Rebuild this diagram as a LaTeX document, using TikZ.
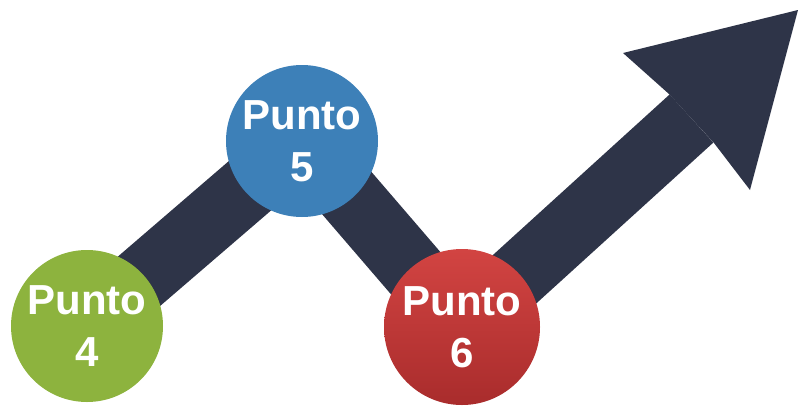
\documentclass[tikz,border=0pt]{standalone}
\usepackage{fontspec}
\setmainfont{Liberation Sans}
\usetikzlibrary{backgrounds}
\definecolor{band}{HTML}{2E3448}
\definecolor{pgreen}{HTML}{8DB33E}
\definecolor{pblue}{HTML}{3D80B8}
\definecolor{predtop}{HTML}{D24442}
\definecolor{predbot}{HTML}{A92C2C}
\tikzset{
  punto/.style={circle, minimum size=152pt, inner sep=0pt, align=center, text=white,
    font=\fontsize{42}{52}\selectfont\bfseries},
  bandline/.style={draw=band, line width=65pt, line join=round},
}
\begin{document}
\begin{tikzpicture}[x=1pt,y=-1pt]
\useasboundingbox (0,0) rectangle (800,407);
\node[punto, fill=pgreen] (g) at (87,326) {Punto\\4};
\node[punto, fill=pblue] (b) at (302,141) {Punto\\5};
\node[punto, minimum size=156pt, top color=predtop, bottom color=predbot] (r) at (462,327) {Punto\\6};
\coordinate (se) at (691.5,118.5);
\begin{scope}[on background layer]
\draw[bandline] (g.center) -- (b.center) -- (r.center) -- (se);
\fill[band] (669,94) -- (623,53) -- (798,10) -- (750,190) -- (714,143) -- cycle;
\end{scope}
\end{tikzpicture}
\end{document}
